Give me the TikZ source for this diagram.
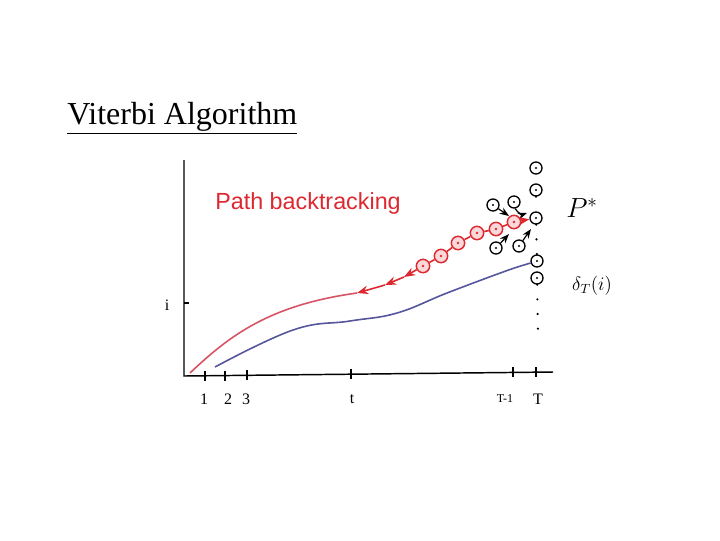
\documentclass[tikz,border=0pt]{standalone}
\usepackage{fontspec}
\setmainfont{Liberation Serif}
\newfontfamily\notefont{Liberation Sans}
\usetikzlibrary{arrows.meta}

\definecolor{pathred}{RGB}{222,40,48}
\definecolor{curvered}{RGB}{214,84,100}
\definecolor{curveblue}{RGB}{86,86,156}

\begin{document}
\begin{tikzpicture}[x=0.75pt, y=-0.75pt, >=Stealth,
    axis/.style={line width=1.1pt},
    state/.style={draw, circle, line width=1pt, minimum size=9pt, inner sep=0pt,
      path picture={\fill (path picture bounding box.center) circle (0.9pt);}},
    redstate/.style={draw=pathred, circle, line width=1.1pt, minimum size=10pt, inner sep=0pt,
      fill=pathred!18,
      path picture={\fill[pathred] (path picture bounding box.center) circle (1pt);}},
    redline/.style={line width=1.2pt, curvered},
    blueline/.style={line width=1.2pt, curveblue},
    backarrow/.style={->, line width=1.2pt, pathred},
    dotcol/.style={line width=1.8pt, line cap=round, dash pattern=on 0pt off 11pt}]
    \useasboundingbox (0,0) rectangle (720,540);

    % Title
    \node[anchor=base west, inner sep=0pt, font=\fontsize{24}{28}\selectfont] (title) at (67,124) {\underline{Viterbi Algorithm}};

    % Axes
    \coordinate (O) at (184,376);
    \coordinate (ytop) at (184,160);
    \coordinate (xend) at (553,372);
    \coordinate (ytick) at (184,303);
    \draw[axis] (ytop) -- (O) -- (xend);
    \draw[axis] (ytick) -- ++(5,0);
    \node (ilab) at (167,305) {\large i};
    \foreach \x/\y/\lx/\lab/\n in {205/375.8/204/1/1, 225/375.6/228/2/2, 247/375.3/246/3/3,
        351/374.2/352/t/t, 513/372.4/505/{\small T-1}/Tm, 536/372.2/538/T/T} {
      \draw[line width=0.9pt] (\x,\y-5) -- (\x,\y+5);
      \node[font=\large] (lab\n) at (\lx,399) {\lab};
    }

    % Label
    \node[anchor=base west, inner sep=0pt, text=pathred, font=\notefont\fontsize{17.5}{20}\selectfont] (note) at (215,209) {Path backtracking};

    % States at time T
    \node[state] (s1) at (536,168) {};
    \node[state] (s2) at (536,190) {};
    \node[state] (pstar) at (536,218) {};
    \node[state] (s4) at (537,261) {};
    \node[state] (s5) at (537,278) {};
    \coordinate (dotend) at (538,335);
    \draw[dotcol] (s2) -- (pstar);
    \draw[dotcol] (pstar) -- (s4);
    \draw[dotcol] (s5) -- (dotend);
    \node (plab) at (582,208) {\huge $P^{*}$};
    \node (dlab) at (592,286) {\Large $\delta_T(i)$};

    % Other candidates
    \node[state] (b1) at (493,205) {};
    \node[state] (b2) at (514,202) {};
    \node[state] (b3) at (496,248) {};
    \node[state] (b4) at (519,246) {};
    \coordinate (e1) at (509,216);
    \coordinate (e2) at (527,213);
    \coordinate (e3) at (509,234);
    \coordinate (e4) at (531,229);
    \draw[->, line width=0.9pt] (b1) -- (e1);
    \draw[->, line width=0.9pt] (b2) to[bend right=40] (e2);
    \draw[->, line width=0.9pt] (b3) -- (e3);
    \draw[->, line width=0.9pt] (b4) -- (e4);

    % Best path so far
    \coordinate (rstart) at (190,373);
    \coordinate (rend) at (357,293);
    \draw[redline] (rstart) .. controls (230,335) and (270,305) .. (rend);

    % Other path
    \draw[blueline] plot[smooth, tension=0.7] coordinates {(215,367) (293,330) (350,321) (397,313) (447,293) (503,272) (524,265)} -- (s4);

    % Backtracking chain
    \node[redstate] (c1) at (423,266) {};
    \node[redstate] (c2) at (441,256) {};
    \node[redstate] (c3) at (458,243) {};
    \node[redstate] (c4) at (477,233) {};
    \node[redstate] (c5) at (496,229) {};
    \node[redstate] (c6) at (514,222) {};
    \coordinate (a1) at (385,285);
    \coordinate (a2) at (404,277);
    \foreach \a/\b in {c6/c5, c5/c4, c4/c3, c3/c2, c2/c1}
      \draw[line width=1.2pt, pathred] (\a) -- (\b);
    \draw[backarrow] (c6) -- (pstar);
    \draw[backarrow] (c1) -- (a2);
    \draw[backarrow] (a2) -- (a1);
    \draw[backarrow] (a1) -- (rend);
\end{tikzpicture}
\end{document}
